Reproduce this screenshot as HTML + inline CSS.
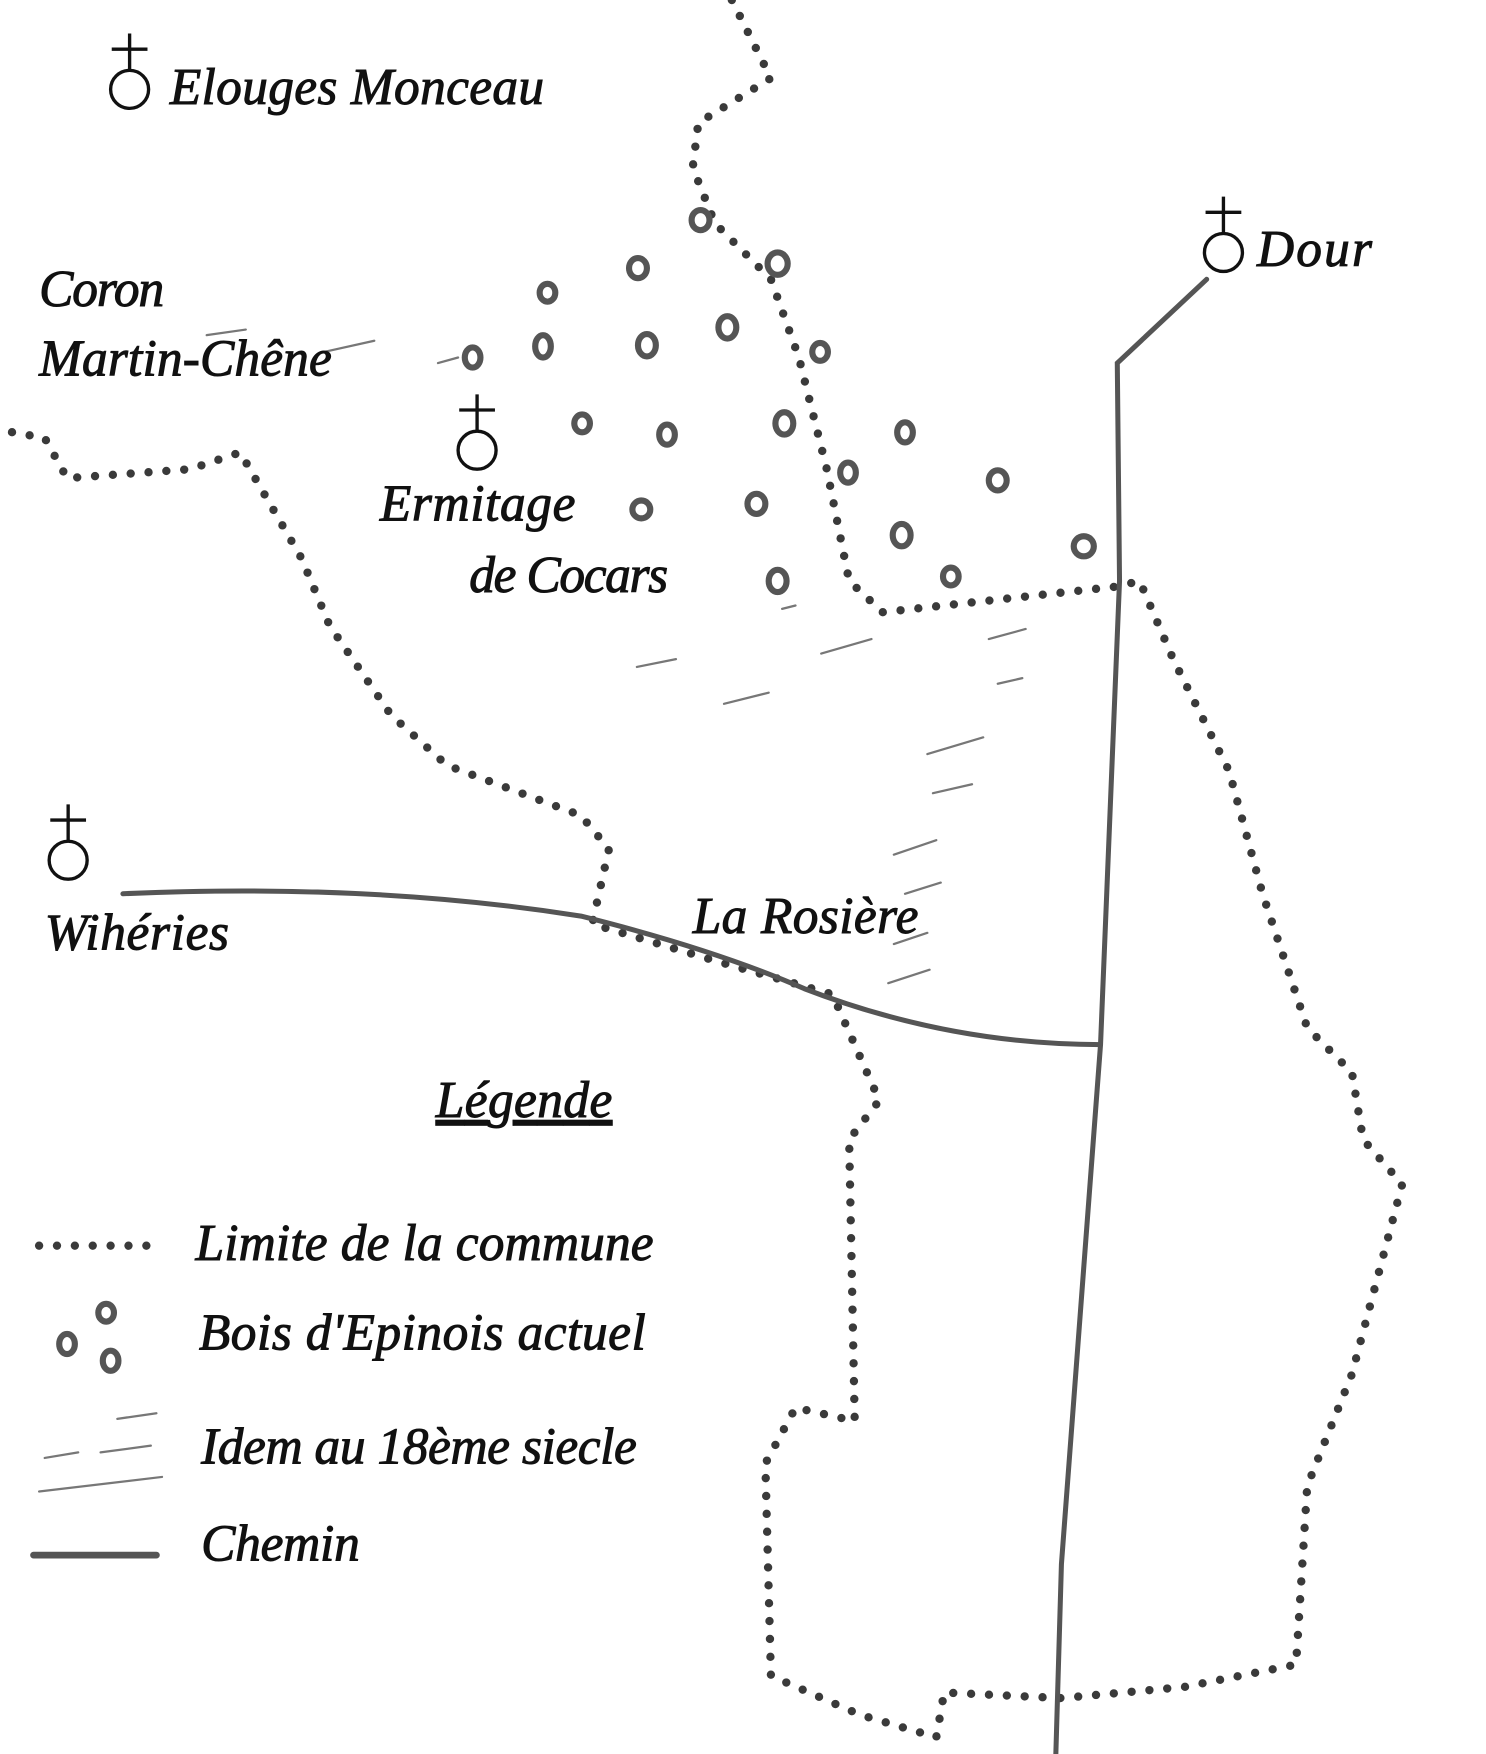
<!DOCTYPE html>
<html><head><meta charset="utf-8"><style>
html,body{margin:0;padding:0;background:#fff;}
svg{display:block;}
text{font-family:"Liberation Serif",serif;font-style:italic;fill:#111;stroke:#111;stroke-width:0.9;}
</style></head><body>
<svg width="1486" height="1754" viewBox="0 0 1330 1570" preserveAspectRatio="none" xmlns="http://www.w3.org/2000/svg">
<rect width="1330" height="1570" fill="#fff"/>
<g fill="none" stroke="#3a3a3a" stroke-width="7.5" stroke-linecap="round" stroke-dasharray="0 16">
<path d="M655,0 L690,70 L625,110 L620,150 L640,200 L690,250 L715,320 L740,420 L760,520 L790,548 L1000,525 L1020,520 L1050,590 L1100,690 L1130,800 L1170,920 L1210,960 L1220,1020 L1255,1060 L1210,1230 L1170,1330 L1160,1490 L1060,1510 L950,1520 L845,1515 L838,1555 L770,1535 L690,1500 L685,1310 L712,1260 L765,1272 L760,1020 L787,985 L745,890 L640,860 L530,827 L545,760 L520,730 L400,685 L350,640 L295,560 L270,500 L215,405 L170,420 L60,428 L40,392 L0,385"/>
<path d="M35,1115 L135,1115"/>
</g>
<g fill="none" stroke="#555" stroke-width="4.5" stroke-linecap="round">
<path d="M1080,250 L1000,325 L1002,520 L985,935 L950,1400 L945,1570"/>
<path d="M110,800 Q330,790 520,820 Q640,850 720,885 Q850,935 985,935"/>
<path d="M30,1392 L140,1392" stroke-width="6"/>
</g>
<g fill="none" stroke="#555" stroke-width="5.5">
<ellipse cx="627" cy="197" rx="8" ry="9"/><ellipse cx="696" cy="236" rx="9" ry="10"/>
<ellipse cx="571" cy="240" rx="8" ry="9"/><ellipse cx="490" cy="262" rx="7" ry="8"/>
<ellipse cx="651" cy="293" rx="8" ry="10"/><ellipse cx="486" cy="310" rx="7" ry="10"/>
<ellipse cx="579" cy="309" rx="8" ry="10"/><ellipse cx="734" cy="315" rx="7" ry="8"/>
<ellipse cx="423" cy="320" rx="7" ry="9"/><ellipse cx="521" cy="379" rx="7" ry="8"/>
<ellipse cx="597" cy="389" rx="7" ry="9"/><ellipse cx="702" cy="379" rx="8" ry="10"/>
<ellipse cx="810" cy="387" rx="7" ry="9"/><ellipse cx="759" cy="423" rx="7" ry="9"/>
<ellipse cx="893" cy="430" rx="8" ry="9"/><ellipse cx="574" cy="456" rx="8" ry="8"/>
<ellipse cx="677" cy="451" rx="8" ry="9"/><ellipse cx="807" cy="479" rx="8" ry="10"/>
<ellipse cx="970" cy="489" rx="9" ry="9"/><ellipse cx="851" cy="516" rx="7" ry="8"/>
<ellipse cx="696" cy="520" rx="8" ry="10"/>
<ellipse cx="60" cy="1203" rx="7" ry="9"/><ellipse cx="95" cy="1175" rx="7" ry="8"/><ellipse cx="99" cy="1218" rx="7" ry="9"/>
</g>
<g stroke="#777" stroke-width="2" stroke-linecap="round">
<path d="M185,300 L220,295 M290,315 L335,305 M392,325 L410,320 M570,597 L605,590 M648,630 L688,620 M735,585 L780,572 M885,572 L918,563 M893,612 L915,607 M830,675 L880,660 M835,710 L870,702 M800,765 L838,752 M810,800 L842,790 M800,845 L830,835 M795,880 L832,868 M700,545 L712,542"/>
<path d="M105,1270 L140,1265 M40,1305 L70,1300 M90,1300 L135,1294 M35,1335 L145,1322"/>
</g>
<g fill="none" stroke="#111" stroke-width="3">
<circle cx="116" cy="80" r="17"/><path d="M116,63 V30 M100,44 H132"/>
<circle cx="1095" cy="226" r="17"/><path d="M1095,209 V176 M1079,190 H1111"/>
<circle cx="427" cy="403" r="17"/><path d="M427,386 V353 M411,367 H443"/>
<circle cx="61" cy="770" r="17"/><path d="M61,753 V720 M45,734 H77"/>
</g>
<g font-size="46">
<text x="152" y="93" textLength="335">Elouges Monceau</text>
<text x="1125" y="238" textLength="103">Dour</text>
<text x="35" y="274" textLength="112">Coron</text>
<text x="35" y="336" textLength="262">Martin-Chêne</text>
<text x="340" y="466" textLength="175">Ermitage</text>
<text x="420" y="530" textLength="178">de Cocars</text>
<text x="40" y="850" textLength="165">Wihéries</text>
<text x="620" y="835" textLength="202">La Rosière</text>
<text x="390" y="1000" text-decoration="underline" textLength="158">Légende</text>
<text x="175" y="1128" textLength="410">Limite de la commune</text>
<text x="178" y="1208" textLength="400">Bois d'Epinois actuel</text>
<text x="180" y="1310" textLength="390">Idem au 18ème siecle</text>
<text x="180" y="1397" textLength="142">Chemin</text>
</g>
</svg>
</body></html>
